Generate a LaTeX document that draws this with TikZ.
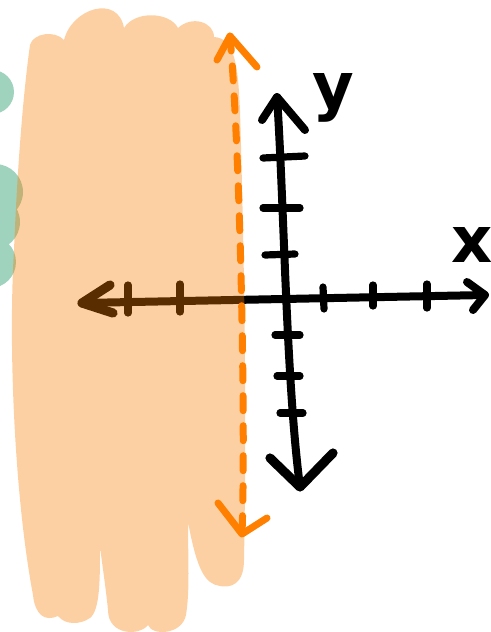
\documentclass[tikz,border=0pt]{standalone}
\usepackage{fontspec}
\setmainfont{DejaVu Sans}
\definecolor{peachc}{RGB}{250,125,0}
\definecolor{greenc}{RGB}{160,211,190}
\definecolor{orangec}{RGB}{255,128,0}
\tikzset{
  axisline/.style={line width=4pt, line cap=round, line join=round, black},
  tickline/.style={line width=3.6pt, line cap=round, black},
  dashline/.style={line width=3.5pt, line cap=round, line join=round, orangec, dash pattern=on 7.5pt off 7.5pt},
  headline/.style={line width=3.5pt, line cap=round, line join=round, orangec},
  lab/.style={font=\fontsize{32}{32}\selectfont\bfseries, inner sep=0pt, anchor=base}
}
\begin{document}
\begin{tikzpicture}[x=0.5pt,y=-0.5pt]
\useasboundingbox (0,0) rectangle (491,632);
% green blobs
\fill[greenc] (-8,92) circle (22);
\fill[greenc] (-5,192) circle (28);
\fill[greenc] (-8,222) circle (28);
\fill[greenc] (-10,262) circle (26);
% coordinates
\coordinate (xl) at (82,303);
\coordinate (xr) at (485,295);
\coordinate (yt) at (277,97);
\coordinate (yb) at (300,487);
% x axis
\draw[axisline] (xl) -- (xr);
\draw[axisline, line width=4.6pt] (110,285) -- (xl) -- (113,313);
\draw[axisline] (467,282) -- (xr) -- (473,310);
\draw[tickline] (128,285) -- (128,313);
\draw[tickline] (180,284) -- (180,312);
\draw[tickline] (323,287) -- (324,309);
\draw[tickline] (373,285) -- (373,306);
\draw[tickline] (427,284) -- (427,308);
% y axis
\draw[axisline] (yt) .. controls (284,200) and (286,380) .. (yb);
\draw[axisline] (262,120) -- (yt) -- (305,130);
\draw[axisline, line width=4.6pt] (270,458) -- (yb) -- (333,453);
\draw[tickline] (263,158) -- (305,156);
\draw[tickline] (263,208) -- (300,208);
\draw[tickline] (265,255) -- (295,254);
\draw[tickline] (275,335) -- (300,335);
\draw[tickline] (277,376) -- (300,376);
\draw[tickline] (280,413) -- (303,413);
% labels
\node[lab] (ylab) at (333,108) {y};
\node[lab] (xlab) at (472,262) {x};
% peach blob
\fill[peachc, fill opacity=0.36] (30,45)
 .. controls (33,33) and (55,30) .. (64,40)
 .. controls (72,8) and (118,-6) .. (124,28)
 .. controls (135,10) and (170,12) .. (178,28)
 .. controls (192,15) and (214,22) .. (214,37)
 .. controls (236,38) and (238,70) .. (240,110)
 .. controls (244,250) and (247,400) .. (244,560)
 .. controls (244,585) and (230,588) .. (220,586)
 .. controls (205,584) and (197,570) .. (188,522)
 .. controls (188,560) and (190,590) .. (186,615)
 .. controls (182,635) and (152,636) .. (148,625)
 .. controls (140,636) and (108,636) .. (108,610)
 .. controls (106,590) and (103,570) .. (100,547)
 .. controls (100,580) and (100,610) .. (90,618)
 .. controls (80,625) and (65,625) .. (58,616)
 .. controls (45,622) and (35,615) .. (33,595)
 .. controls (15,500) and (8,350) .. (14,250)
 .. controls (18,150) and (25,80) .. (30,45) -- cycle;
% orange dashed double arrow
\coordinate (otop) at (230,36);
\coordinate (obot) at (242,534);
\draw[dashline] (otop) .. controls (240,150) and (246,420) .. (obot);
\draw[headline] (217,60) -- (otop) -- (257,67);
\draw[headline] (218,503) -- (obot) -- (267,518);
\end{tikzpicture}
\end{document}
